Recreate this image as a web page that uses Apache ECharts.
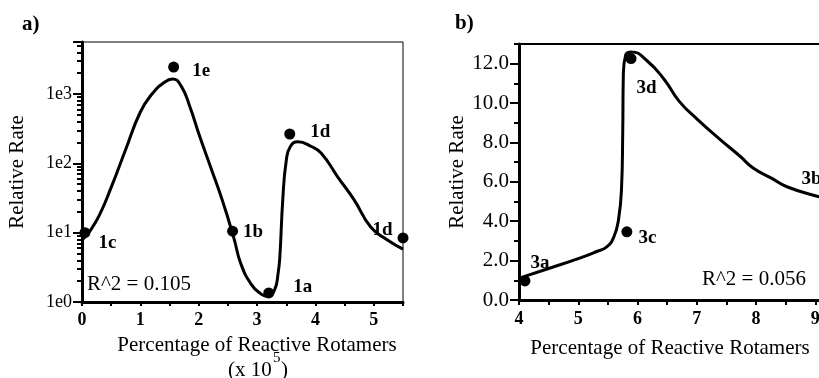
<!DOCTYPE html>
<html>
<head>
<meta charset="utf-8">
<script src="https://cdn.jsdelivr.net/npm/echarts@6/dist/echarts.min.js"></script>
<style>
  html, body { margin: 0; padding: 0; background: #fff; }
  #chart { width: 819px; height: 378px; }
</style>
</head>
<body>
<div id="chart"></div>
<script>
// panel a: fitted curve (x = % reactive rotamers x 1e5, y = relative rate, log)
const curveAx = [0, 0.15, 0.3, 0.5, 0.75, 1.0, 1.2, 1.4, 1.55, 1.7, 1.85, 2.0, 2.2, 2.4, 2.6, 2.72, 2.9, 3.07, 3.18, 3.3, 3.36, 3.39, 3.44, 3.5, 3.57, 3.7, 3.93, 4.1, 4.38, 4.66, 4.95, 5.24, 5.5];
const curveAy = [7.8, 11, 18, 45, 160, 550, 1000, 1450, 1650, 1300, 650, 270, 90, 30, 8.5, 3.6, 1.8, 1.3, 1.2, 1.5, 2.6, 4.5, 30, 110, 175, 205, 175, 140, 64, 30, 12, 7.8, 5.8];
const pointsAx = [0.05, 1.57, 2.58, 3.2, 3.56, 5.5];
const pointsAy = [10, 2450, 10.5, 1.35, 265, 8.4];
const pointsAnames = ['1c', '1e', '1b', '1a', '1d', '1d'];
const xTicksA = [0, 1, 2, 3, 4, 5];
const minorTicksA = [2, 3, 4, 5, 6, 7, 8, 9, 20, 30, 40, 50, 60, 70, 80, 90, 200, 300, 400, 500, 600, 700, 800, 900, 2000, 3000, 4000, 5000];

// panel b: fitted curve (linear y)
const curveBx = [4.02, 4.5, 5.0, 5.3, 5.48, 5.6, 5.68, 5.73, 5.75, 5.76, 5.8, 5.9, 6.16, 6.45, 6.7, 7.0, 7.39, 7.73, 7.95, 8.25, 8.52, 9.03, 9.35];
const curveBy = [1.12, 1.6, 2.1, 2.45, 2.7, 3.2, 4.1, 5.7, 8.5, 11.4, 12.45, 12.6, 12.15, 11.2, 10.1, 9.2, 8.16, 7.3, 6.7, 6.2, 5.75, 5.27, 5.0];
const pointsBx = [4.1, 5.82, 5.89, 9.3];
const pointsBy = [0.97, 3.46, 12.26, 5.9];
const pointsBnames = ['3a', '3c', '3d', '3b'];
const yTicksB = [0, 2, 4, 6, 8, 10, 12];

const serif = '"Liberation Serif", "Times New Roman", serif';
const black = '#000';

// label placement for the point names: [position, distance, dx, dy]
const placeA = [['right', 8, 0, 10], ['right', 13, 0, 4], ['right', 5, 0, 1], ['right', 19, 0, -6], ['right', 15, 0, -2], ['left', 5, 0, -8]];
const placeB = [['right', 0, 0, -18], ['right', 6, 0, 6], ['right', 0, 0, 30], ['left', 6, 0, -5]];

function zip(xs, ys) {
  return xs.map((x, i) => [x, ys[i]]);
}

function pointData(xs, ys, names, place) {
  return xs.map((x, i) => ({
    value: [x, ys[i]],
    name: names[i],
    label: {
      show: true,
      formatter: names[i],
      position: place[i][0],
      distance: place[i][1],
      offset: [place[i][2], place[i][3]],
    },
  }));
}

const tickLabel = { color: black, fontFamily: serif, fontSize: 18 };
const axisTitle = { color: black, fontFamily: serif, fontSize: 21 };
const pointStyle = { color: black, opacity: 1 };
const pointLabel = { color: black, fontFamily: serif, fontSize: 19, fontWeight: 'bold' };

const chart = echarts.init(document.getElementById('chart'), null, { renderer: 'canvas' });

chart.setOption({
  animation: false,
  backgroundColor: '#fff',
  grid: [
    { left: 82, top: 42, width: 321, height: 260, outerBoundsMode: 'none', show: true, borderColor: black, borderWidth: 1 },
    // panel b runs past the right edge of the picture, as in the source figure
    { left: 519, top: 44, width: 326, height: 256, outerBoundsMode: 'none', show: true, borderColor: black, borderWidth: 2 },
  ],
  xAxis: [
    {
      gridIndex: 0,
      type: 'value',
      min: 0,
      max: 5.5,
      interval: 0.5,
      name: 'Percentage of Reactive Rotamers',
      nameLocation: 'middle',
      nameGap: 33,
      nameTextStyle: { ...axisTitle, padding: [0, 0, 0, 29] },
      axisLine: { lineStyle: { color: black, width: 3 } },
      axisTick: { length: 4, lineStyle: { color: black, width: 2 } },
      axisLabel: {
        ...tickLabel,
        fontWeight: 'bold',
        margin: 9,
        formatter: (v) => (xTicksA.includes(v) ? String(v) : ''),
      },
      splitLine: { show: false },
    },
    {
      gridIndex: 1,
      type: 'value',
      min: 4,
      max: 9.5,
      interval: 0.5,
      name: 'Percentage of Reactive Rotamers',
      nameLocation: 'middle',
      nameGap: 38,
      nameTextStyle: { ...axisTitle, padding: [0, 24, 0, 0] },
      axisLine: { lineStyle: { color: black, width: 3 } },
      axisTick: { length: 5, lineStyle: { color: black, width: 2 } },
      axisLabel: {
        ...tickLabel,
        fontWeight: 'bold',
        margin: 10,
        formatter: (v) => (Number.isInteger(v) ? String(v) : ''),
      },
      splitLine: { show: false },
    },
  ],
  yAxis: [
    {
      gridIndex: 0,
      type: 'log',
      logBase: 10,
      min: 1,
      max: Math.pow(10, 3.75),
      splitNumber: 4,
      position: 'left',
      name: 'Relative Rate',
      nameLocation: 'middle',
      nameGap: 54,
      nameTextStyle: axisTitle,
      axisLine: { lineStyle: { color: black, width: 3 } },
      axisTick: { length: 9, lineStyle: { color: black, width: 2 } },
      axisLabel: {
        ...tickLabel,
        margin: 10,
        formatter: (v) => (v > 5000 ? '' : '1e' + Math.round(Math.log(v) / Math.LN10)),
      },
      splitLine: { show: false },
    },
    {
      // minor log ticks, drawn on an exponent scale that matches the log axis
      gridIndex: 0,
      type: 'value',
      min: 0,
      max: 3.75,
      position: 'left',
      axisLine: { show: false },
      axisTick: {
        show: true,
        length: 5,
        customValues: minorTicksA.map((v) => Math.log10(v)),
        lineStyle: { color: black, width: 2 },
      },
      axisLabel: { show: false },
      splitLine: { show: false },
    },
    {
      gridIndex: 1,
      type: 'value',
      min: 0,
      max: 13,
      interval: 2,
      position: 'left',
      name: 'Relative Rate',
      nameLocation: 'middle',
      nameGap: 51,
      nameTextStyle: axisTitle,
      axisLine: { lineStyle: { color: black, width: 3 } },
      axisTick: { length: 9, customValues: yTicksB, lineStyle: { color: black, width: 2 } },
      axisLabel: {
        ...tickLabel,
        fontSize: 21,
        margin: 10,
        formatter: (v) => (yTicksB.includes(v) ? v.toFixed(1) : ''),
      },
      splitLine: { show: false },
    },
    {
      gridIndex: 1,
      type: 'value',
      min: 0,
      max: 13,
      interval: 1,
      position: 'left',
      axisLine: { show: false },
      axisTick: { length: 5, lineStyle: { color: black, width: 2 } },
      axisLabel: { show: false },
      splitLine: { show: false },
    },
  ],
  graphic: [
    { type: 'text', left: 22, top: 14, style: { text: 'a)', font: 'bold 21px ' + serif, fill: black } },
    { type: 'text', left: 455, top: 13, style: { text: 'b)', font: 'bold 21px ' + serif, fill: black } },
    { type: 'text', left: 87, top: 274, style: { text: 'R^2 = 0.105', font: '21px ' + serif, fill: black } },
    { type: 'text', left: 702, top: 269, style: { text: 'R^2 = 0.056', font: '21px ' + serif, fill: black } },
    // second line of the panel a axis title: (x 10^5)
    { type: 'text', left: 228, top: 360, style: { text: '(x 10', font: '21px ' + serif, fill: black } },
    { type: 'text', left: 273, top: 351, style: { text: '5', font: '15px ' + serif, fill: black } },
    { type: 'text', left: 281, top: 360, style: { text: ')', font: '21px ' + serif, fill: black } },
  ],
  series: [
    {
      type: 'line',
      xAxisIndex: 0,
      yAxisIndex: 0,
      data: zip(curveAx, curveAy),
      smooth: 0.5,
      showSymbol: false,
      lineStyle: { color: black, width: 3 },
      silent: true,
    },
    {
      type: 'scatter',
      xAxisIndex: 0,
      yAxisIndex: 0,
      symbolSize: 11,
      itemStyle: pointStyle,
      label: pointLabel,
      data: pointData(pointsAx, pointsAy, pointsAnames, placeA),
      z: 3,
    },
    {
      type: 'line',
      xAxisIndex: 1,
      yAxisIndex: 2,
      data: zip(curveBx, curveBy),
      smooth: 0.5,
      showSymbol: false,
      lineStyle: { color: black, width: 3 },
      silent: true,
    },
    {
      type: 'scatter',
      xAxisIndex: 1,
      yAxisIndex: 2,
      symbolSize: 11,
      itemStyle: pointStyle,
      label: pointLabel,
      data: pointData(pointsBx, pointsBy, pointsBnames, placeB),
      z: 3,
    },
  ],
});
</script>
</body>
</html>
